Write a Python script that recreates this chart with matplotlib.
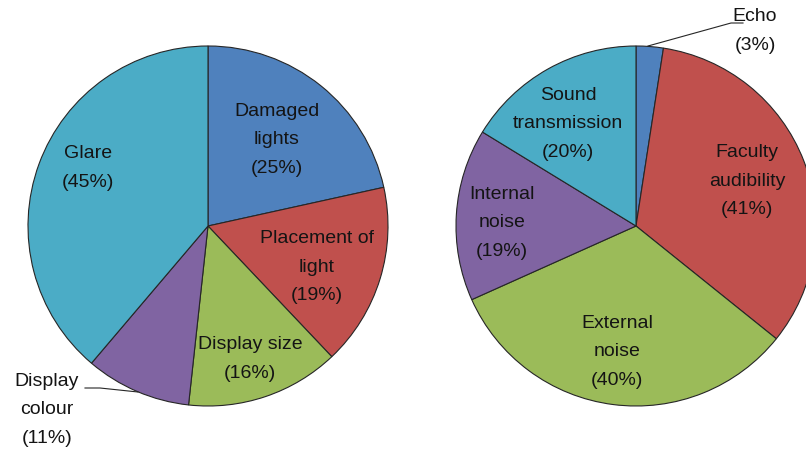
import matplotlib
matplotlib.use("Agg")
import matplotlib.pyplot as plt

plt.rcParams['font.family'] = ['Liberation Sans', 'DejaVu Sans']

# Left pie: lighting problems
luz_labels = ["Damaged\nlights", "Placement of\nlight", "Display size", "Display\ncolour", "Glare"]
luz_values = [25, 19, 16, 11, 45]

# Right pie: acoustic problems
sonido_labels = ["Echo", "Faculty\naudibility", "External\nnoise", "Internal\nnoise", "Sound\ntransmission"]
sonido_values = [3, 41, 40, 19, 20]

colores = ["#4F81BD", "#C0504D", "#9BBB59", "#8064A2", "#4BACC6"]

W, H = 806, 452

# label positions in pixels (x, y from top)
luz_pos = [(277, 140), (317, 267), (250, 359), (47, 410), (88, 168)]
sonido_pos = [(755, 31), (747, 181), (617, 352), (502, 223), (568, 124)]


def py(y):
    return H - y


fig = plt.figure(figsize=(W / 100, H / 100), dpi=100)
ax = fig.add_axes([0, 0, 1, 1])

borde = dict(edgecolor="#262626", linewidth=0.8)
ax.pie(luz_values, center=(208, py(227)), radius=180, startangle=90,
       counterclock=False, colors=colores, wedgeprops=borde)
ax.pie(sonido_values, center=(636, py(227)), radius=180, startangle=90,
       counterclock=False, colors=colores, wedgeprops=borde)

ax.set_xlim(0, W)
ax.set_ylim(0, H)
ax.set_aspect("equal")
ax.axis("off")

texto = dict(ha="center", va="center", fontsize=14, color="#141414", linespacing=1.85)

for lab, val, (x, y) in zip(luz_labels, luz_values, luz_pos):
    ax.text(x, py(y), f"{lab}\n({val}%)", **texto)

for lab, val, (x, y) in zip(sonido_labels, sonido_values, sonido_pos):
    ax.text(x, py(y), f"{lab}\n({val}%)", **texto)

# leader lines
ax.plot([85, 100, 138], [py(389), py(389), py(393)], color="#262626", lw=0.8)
ax.plot([648, 731, 743], [py(47), py(24), py(24)], color="#262626", lw=0.8)

fig.savefig("out.png", dpi=100)
